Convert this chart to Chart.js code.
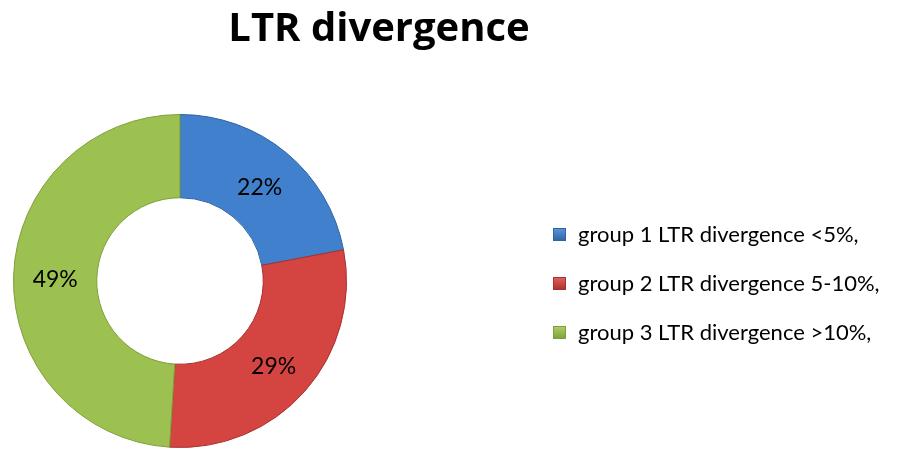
<!DOCTYPE html>
<html>
<head>
<meta charset="utf-8">
<script src="https://cdn.jsdelivr.net/npm/chart.js@4.4.1/dist/chart.umd.min.js"></script>
<style>
  html, body { margin: 0; padding: 0; background: #ffffff; }
  #wrap { position: relative; width: 920px; height: 449px; }
</style>
</head>
<body>
<div id="wrap"><canvas id="ltrChart" width="920" height="449"></canvas></div>
<script>
// Chart data
const titleText = 'LTR divergence';
const groupLabels = ['group 1 LTR divergence <5%,', 'group 2 LTR divergence 5-10%,', 'group 3 LTR divergence >10%,'];
const groupValues = [22, 29, 49];

// Colours per slice: [dark edge, main, highlight]
const sliceColors = [
    ['#2f63a3', '#4180cc', '#5a97dc'],
    ['#a8302e', '#d44542', '#e2625e'],
    ['#7f9e3a', '#9cc150', '#b0d165']
];

// Bevel-ish fill for each ring segment
function sliceFill(context) {
    const chart = context.chart;
    const c = sliceColors[context.dataIndex];
    const area = chart.chartArea;
    if (!area) return c[1];
    const meta = chart.getDatasetMeta(0);
    const arc = meta.data[context.dataIndex];
    if (!arc || !arc.outerRadius) return c[1];
    const cx = (area.left + area.right) / 2;
    const cy = (area.top + area.bottom) / 2;
    const g = chart.ctx.createRadialGradient(cx, cy, arc.innerRadius, cx, cy, arc.outerRadius);
    g.addColorStop(0, c[0]);
    g.addColorStop(0.08, c[1]);
    g.addColorStop(0.85, c[1]);
    g.addColorStop(0.94, c[2]);
    g.addColorStop(1, c[0]);
    return g;
}

// Title, percentage labels and legend drawn on the canvas
const extrasPlugin = {
    id: 'extras',
    afterDatasetsDraw(chart) {
        const ctx = chart.ctx;
        const meta = chart.getDatasetMeta(0);
        const total = groupValues.reduce((a, b) => a + b, 0);

        ctx.save();
        ctx.fillStyle = '#000';
        ctx.textAlign = 'center';
        ctx.textBaseline = 'middle';
        ctx.font = '23px Lato, "Open Sans", sans-serif';
        meta.data.forEach((arc, i) => {
            const p = arc.tooltipPosition();
            ctx.fillText(Math.round(groupValues[i] / total * 100) + '%', p.x, p.y + 3);
        });

        // title
        ctx.textBaseline = 'alphabetic';
        ctx.font = 'bold 40px "Open Sans", Lato, sans-serif';
        ctx.fillText(titleText, 379, 41);

        // legend
        ctx.textAlign = 'left';
        ctx.textBaseline = 'middle';
        ctx.font = '22px Lato, "Open Sans", sans-serif';
        const rows = [234, 283, 332];
        groupLabels.forEach((label, i) => {
            const y = rows[i];
            const c = sliceColors[i];
            const g = ctx.createLinearGradient(553, y - 6, 553, y + 7);
            g.addColorStop(0, c[2]);
            g.addColorStop(1, c[0]);
            ctx.fillStyle = g;
            ctx.fillRect(553, y - 6, 13, 13);
            ctx.strokeStyle = c[0];
            ctx.lineWidth = 1;
            ctx.strokeRect(553.5, y - 5.5, 12, 12);
            ctx.fillStyle = '#000';
            ctx.fillText(label, 578, y + 1);
        });
        ctx.restore();
    }
};

new Chart(document.getElementById('ltrChart').getContext('2d'), {
    type: 'doughnut',
    data: {
        labels: groupLabels,
        datasets: [{
            data: groupValues,
            backgroundColor: sliceFill,
            borderColor: sliceColors.map(c => c[0]),
            borderWidth: 1
        }]
    },
    options: {
        responsive: false,
        animation: false,
        cutout: '50%',
        layout: {
            padding: { left: 13, top: 114, right: 573, bottom: 1 }
        },
        plugins: {
            legend: { display: false },
            title: { display: false },
            tooltip: { enabled: false }
        }
    },
    plugins: [extrasPlugin]
});
</script>
</body>
</html>
